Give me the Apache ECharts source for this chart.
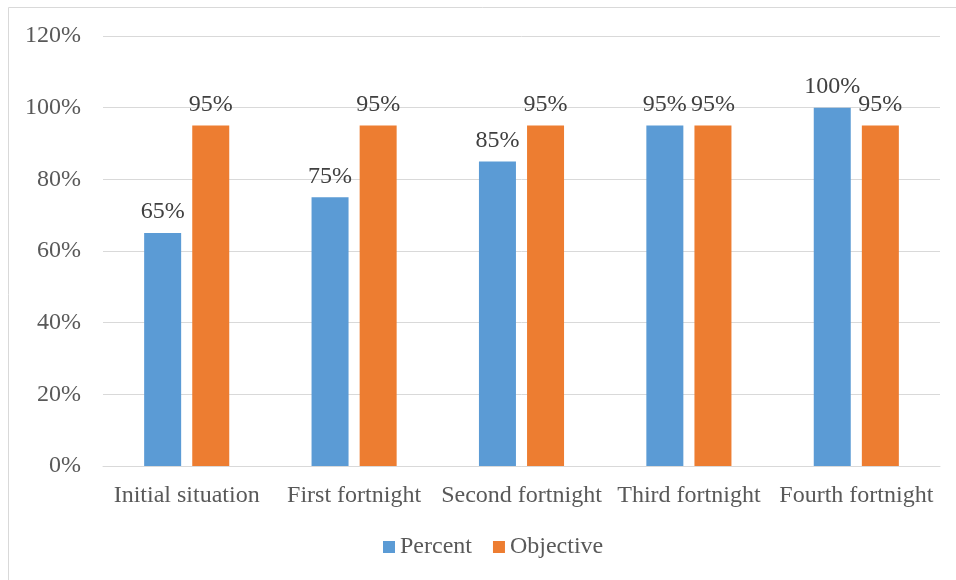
<!DOCTYPE html>
<html>
<head>
<meta charset="utf-8">
<script src="https://cdn.jsdelivr.net/npm/echarts@6/dist/echarts.min.js"></script>
<style>
  html, body { margin: 0; padding: 0; background: #fff; }
  #chart { width: 956px; height: 580px; }
</style>
</head>
<body>
<div id="chart"></div>
<script>
// chart data
const categories = ["Initial situation", "First fortnight", "Second fortnight", "Third fortnight", "Fourth fortnight"];
const percentValues = [65, 75, 85, 95, 100];
const objectiveValues = [95, 95, 95, 95, 95];
const yTicks = [0, 20, 40, 60, 80, 100, 120];

const chart = echarts.init(document.getElementById("chart"));

const font = "'Liberation Serif', 'Times New Roman', serif";

const labelStyle = {
    show: true,
    position: "top",
    distance: 9,
    formatter: "{c}%",
    color: "#404040",
    fontFamily: font,
    fontSize: 24
};

chart.setOption({
    animation: false,
    // outer chart border (only top/left visible in the picture)
    graphic: [{
        type: "rect",
        shape: { x: 8.5, y: 7.5, width: 1200, height: 1200 },
        style: { fill: "none", stroke: "#d9d9d9", lineWidth: 1 },
        silent: true
    }],
    grid: { left: 103, right: 16, top: 36, bottom: 114 },
    legend: {
        bottom: 16,
        left: 378,
        itemWidth: 12,
        itemHeight: 12,
        itemGap: 21,
        icon: "rect",
        textStyle: { color: "#595959", fontFamily: font, fontSize: 24 },
        data: ["Percent", "Objective"]
    },
    xAxis: {
        type: "category",
        data: categories,
        axisLine: { lineStyle: { color: "#d9d9d9", width: 1 } },
        axisTick: { show: false },
        axisLabel: { color: "#595959", fontFamily: font, fontSize: 24, margin: 18, interval: 0 }
    },
    yAxis: {
        type: "value",
        min: yTicks[0],
        max: yTicks[yTicks.length - 1],
        interval: 20,
        axisLine: { show: false },
        axisTick: { show: false },
        splitLine: { lineStyle: { color: "#d9d9d9", width: 1 } },
        axisLabel: { color: "#595959", fontFamily: font, fontSize: 24, margin: 22, formatter: "{value}%" }
    },
    series: [
        {
            name: "Percent",
            type: "bar",
            data: percentValues,
            barWidth: 37,
            barGap: "30%",
            itemStyle: { color: "#5b9bd5" },
            label: labelStyle
        },
        {
            name: "Objective",
            type: "bar",
            data: objectiveValues,
            barWidth: 37,
            itemStyle: { color: "#ed7d31" },
            label: labelStyle
        }
    ]
});
</script>
</body>
</html>
